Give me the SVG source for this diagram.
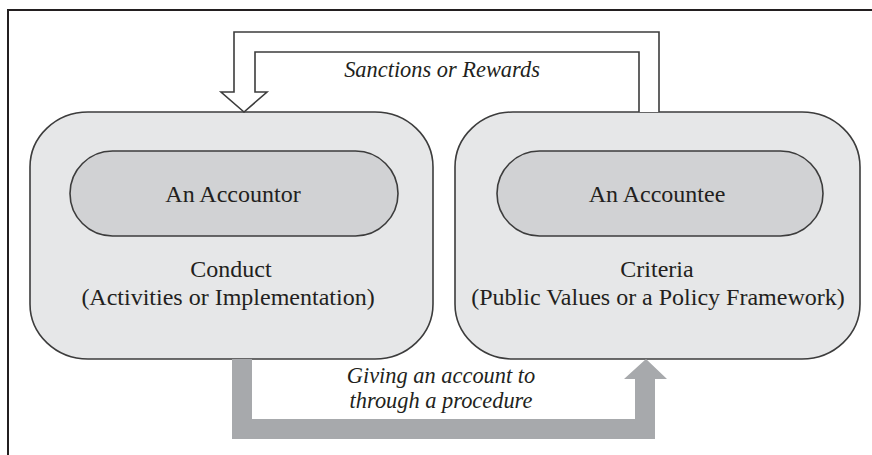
<svg xmlns="http://www.w3.org/2000/svg" width="872" height="455" viewBox="0 0 872 455">
<style>
.outer{fill:#e6e7e8;stroke:#3c3c3c;stroke-width:1.6}
.pill{fill:#d1d2d4;stroke:#3c3c3c;stroke-width:1.6}
.t{font-family:'Liberation Serif','Times New Roman',Times,serif;font-size:24px;fill:#231f20;text-anchor:middle}
.it{font-family:'Liberation Serif','Times New Roman',Times,serif;font-size:22.4px;font-style:italic;fill:#231f20;text-anchor:middle}
</style>
<rect width="872" height="455" fill="#ffffff"/>
<path d="M8 455 V10 H872" fill="none" stroke="#231f20" stroke-width="2"/>
<g id="accountor">
<rect class="outer" x="30" y="112" width="403" height="247" rx="58" ry="55"/>
<rect class="pill" x="70" y="151" width="328" height="85" rx="42.5" ry="42.5"/>
<text class="t" x="233" y="202">An Accountor</text>
<text class="t" x="231" y="277">Conduct</text>
<text class="t" x="228" y="305">(Activities or Implementation)</text>
</g>
<g id="accountee">
<rect class="outer" x="455" y="112" width="405" height="247" rx="58" ry="55"/>
<rect class="pill" x="497" y="151" width="326" height="85" rx="42.5" ry="42.5"/>
<text class="t" x="657" y="202">An Accountee</text>
<text class="t" x="657" y="277">Criteria</text>
<text class="t" x="658" y="305">(Public Values or a Policy Framework)</text>
</g>
<g id="connectors">
<path d="M639 112 V52 H255 V92 H267 L244 112 L221 92 H234 V32 H659 V112" fill="#ffffff" stroke="#3c3c3c" stroke-width="1.6" stroke-linejoin="miter"/>
<text class="it" x="442" y="77">Sanctions or Rewards</text>
<path d="M232 359 H252 V419 H635 V379 H624 L646 359 L667 379 H655 V439 H232 Z" fill="#a7a9ac"/>
<text class="it" x="441" y="383">Giving an account to</text>
<text class="it" x="441" y="408">through a procedure</text>
</g>
</svg>
